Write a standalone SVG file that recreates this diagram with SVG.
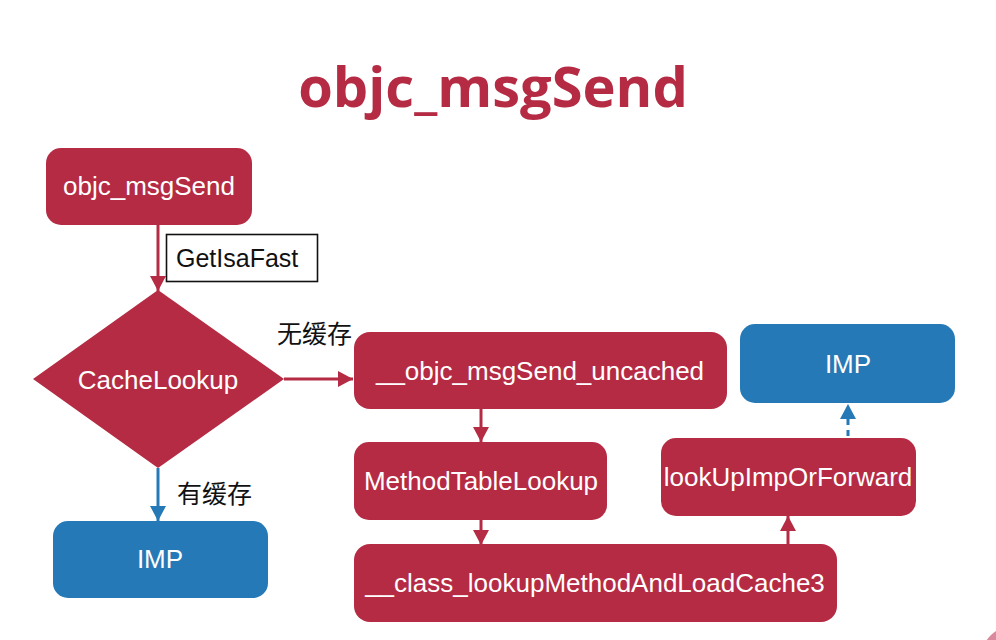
<svg xmlns="http://www.w3.org/2000/svg" width="996" height="640" viewBox="0 0 996 640">
<defs>
<marker id="ar" markerUnits="userSpaceOnUse" markerWidth="18" markerHeight="18" refX="15" refY="8" orient="auto">
<path d="M0,0 L15,8 L0,16 Z" fill="#b52b44"/>
</marker>
<marker id="ab" markerUnits="userSpaceOnUse" markerWidth="18" markerHeight="18" refX="15" refY="8" orient="auto">
<path d="M0,0 L15,8 L0,16 Z" fill="#2479b6"/>
</marker>
<style>
.r{fill:#b52b44}
.b{fill:#2479b6}
.t{font-family:"Liberation Sans",Arial,sans-serif;font-size:26px;fill:#fff;text-anchor:middle}
.k{font-family:"Liberation Sans","Noto Sans CJK SC",sans-serif;font-size:25px;fill:#111}
.lr{stroke:#b52b44;stroke-width:3;fill:none}
.lb{stroke:#2479b6;stroke-width:3;fill:none}
</style>
</defs>
<rect width="996" height="640" fill="#fff"/>
<circle cx="1016" cy="661" r="36" fill="#d98a9c"/>
<text x="493" y="107" font-family="'Open Sans',sans-serif" font-weight="bold" font-size="56" fill="#b52b44" text-anchor="middle">objc_msgSend</text>

<g id="connectors">
<line class="lr" x1="158" y1="225" x2="158" y2="291" marker-end="url(#ar)"/>
<line class="lr" x1="284" y1="379" x2="353" y2="379" marker-end="url(#ar)"/>
<line class="lb" x1="158" y1="468" x2="158" y2="521" marker-end="url(#ab)"/>
<line class="lr" x1="481" y1="409" x2="481" y2="442" marker-end="url(#ar)"/>
<line class="lr" x1="481" y1="520" x2="481" y2="545" marker-end="url(#ar)"/>
<line class="lr" x1="788" y1="544" x2="788" y2="516" marker-end="url(#ar)"/>
<line class="lb" x1="848" y1="436" x2="848" y2="404" stroke-dasharray="6 5" marker-end="url(#ab)"/>
<g id="label-getisafast">
<rect x="166.5" y="234.5" width="151" height="47" fill="#fff" stroke="#111" stroke-width="1.6"/>
<text class="k" x="176" y="267" font-size="26">GetIsaFast</text>
</g>
<text class="k" x="277" y="343">无缓存</text>
<text class="k" x="177" y="503">有缓存</text>
</g>

<g id="n-objc_msgSend">
<rect class="r" x="46" y="148" width="206" height="77" rx="15"/>
<text class="t" x="149" y="195">objc_msgSend</text>
</g>
<g id="n-cachelookup">
<path class="r" d="M158,290 L284,379 L158,468 L33,379 Z"/>
<text class="t" x="158" y="389">CacheLookup</text>
</g>
<g id="n-imp-left">
<rect class="b" x="53" y="521" width="215" height="77" rx="15"/>
<text class="t" x="160" y="568">IMP</text>
</g>
<g id="n-uncached">
<rect class="r" x="354" y="332" width="373" height="77" rx="16"/>
<text class="t" x="540" y="380">__objc_msgSend_uncached</text>
</g>
<g id="n-methodtable">
<rect class="r" x="354" y="442" width="253" height="78" rx="15"/>
<text class="t" x="481" y="490">MethodTableLookup</text>
</g>
<g id="n-classlookup">
<rect class="r" x="354" y="544" width="483" height="78" rx="16"/>
<text class="t" x="595" y="592">__class_lookupMethodAndLoadCache3</text>
</g>
<g id="n-lookupimp">
<rect class="r" x="661" y="438" width="255" height="78" rx="15"/>
<text class="t" x="788" y="486">lookUpImpOrForward</text>
</g>
<g id="n-imp-right">
<rect class="b" x="740" y="324" width="215" height="79" rx="15"/>
<text class="t" x="848" y="373">IMP</text>
</g>
</svg>
